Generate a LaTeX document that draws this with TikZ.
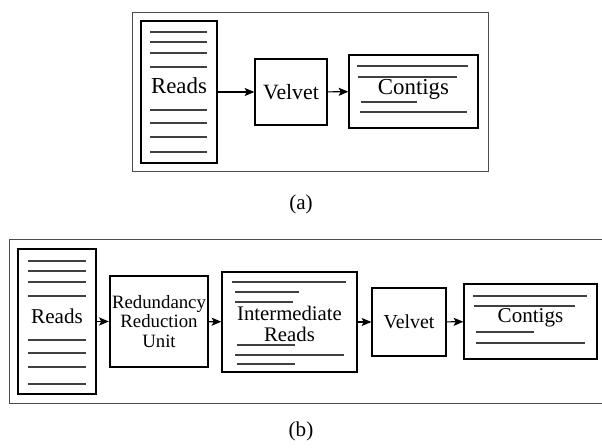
\documentclass[tikz,border=0pt]{standalone}
\usepackage{fontspec}
\setmainfont{Liberation Serif}
\usetikzlibrary{arrows.meta}

\begin{document}
\begin{tikzpicture}[x=0.02cm, y=-0.02cm, >={Stealth[length=5.5pt, width=4.6pt, inset=1.2pt]}]
		\tikzstyle{every node}=[inner sep=1pt, align=center, font=\fontsize{12}{13}\selectfont]
		\tikzstyle{big}=[font=\fontsize{13}{14}\selectfont]
		\tikzstyle{box}=[draw, rectangle, line width=0.8pt]
		\tikzstyle{strip}=[draw=black!75, line width=0.7pt]
		\tikzstyle{frame}=[draw=black!70, line width=0.5pt]
		\tikzstyle{flow}=[->, line width=0.65pt]
		\useasboundingbox (0,0) rectangle (602,448);
		% (a)
		\draw [frame] (132,12) rectangle (488,171);
		\node [box, line width=1.1pt, minimum width=1.52cm, minimum height=2.84cm] (readsA) at (179,92) {};
		\node [big] (readsAtxt) at (179,86) {Reads};
		\foreach \y in {32,42,53,67,110,123,137,152}
			\draw [strip] (150,\y) -- (207,\y);
		\node [box, minimum width=1.44cm, minimum height=1.32cm, font=\fontsize{12.4}{13}\selectfont] (velvetA) at (291,92) {Velvet};
		\node [box, minimum width=2.58cm, minimum height=1.46cm] (contigsA) at (413.5,91.5) {};
		\node [big] (contigsAtxt) at (413.5,89) {Contigs};
		\draw [strip] (357,66) -- (468,66);
		\draw [strip] (358,77) -- (457,77);
		\draw [strip] (361,102) -- (417,102);
		\draw [strip] (360,112) -- (467,112);
		\draw [flow] (readsA) -- (velvetA);
		\draw [flow] (velvetA) -- (contigsA);
		\node (capA) at (301,204) {(a)};
		% (b)
		\draw [frame] (602,239) -- (9,239) -- (9,403) -- (602,403);
		\node [box, line width=1.1pt, minimum width=1.56cm, minimum height=2.9cm] (readsB) at (57,321.5) {};
		\node (readsBtxt) at (57,316) {Reads};
		\foreach \y in {261,271,282,296,340,353,367,384}
			\draw [strip] (28,\y) -- (86,\y);
		\node [box, line width=1.4pt, minimum width=1.96cm, minimum height=1.82cm,
			font=\fontsize{10.7}{11}\selectfont] (rru) at (159,321.5) {Redundancy\\Reduction\\Unit};
		\node [box, minimum width=2.7cm, minimum height=2cm] (inter) at (289.5,322) {};
		\node [font=\fontsize{11.8}{11.6}\selectfont] (intertxt) at (289.5,324) {Intermediate\\Reads};
		\draw [strip] (232,282) -- (346,282);
		\draw [strip] (235,292) -- (299,292);
		\draw [strip] (235,302) -- (293,302);
		\draw [strip] (237,345) -- (295,345);
		\draw [strip] (235,355) -- (344,355);
		\draw [strip] (237,364) -- (295,364);
		\node [box, minimum width=1.48cm, minimum height=1.36cm, font=\fontsize{11.3}{12}\selectfont] (velvetB) at (409,322) {Velvet};
		\node [box, minimum width=2.66cm, minimum height=1.5cm] (contigsB) at (530.5,321.5) {};
		\node (contigsBtxt) at (530.5,318) {Contigs};
		\draw [strip] (473,296) -- (587,296);
		\draw [strip] (474,306) -- (575,306);
		\draw [strip] (476,332) -- (534,332);
		\draw [strip] (476,343) -- (585,343);
		\draw [flow] (readsB) -- (rru);
		\draw [flow] (rru) -- (inter);
		\draw [flow] (inter) -- (velvetB);
		\draw [flow] (velvetB) -- (contigsB);
		\node (capB) at (301,431) {(b)};
\end{tikzpicture}
\end{document}
